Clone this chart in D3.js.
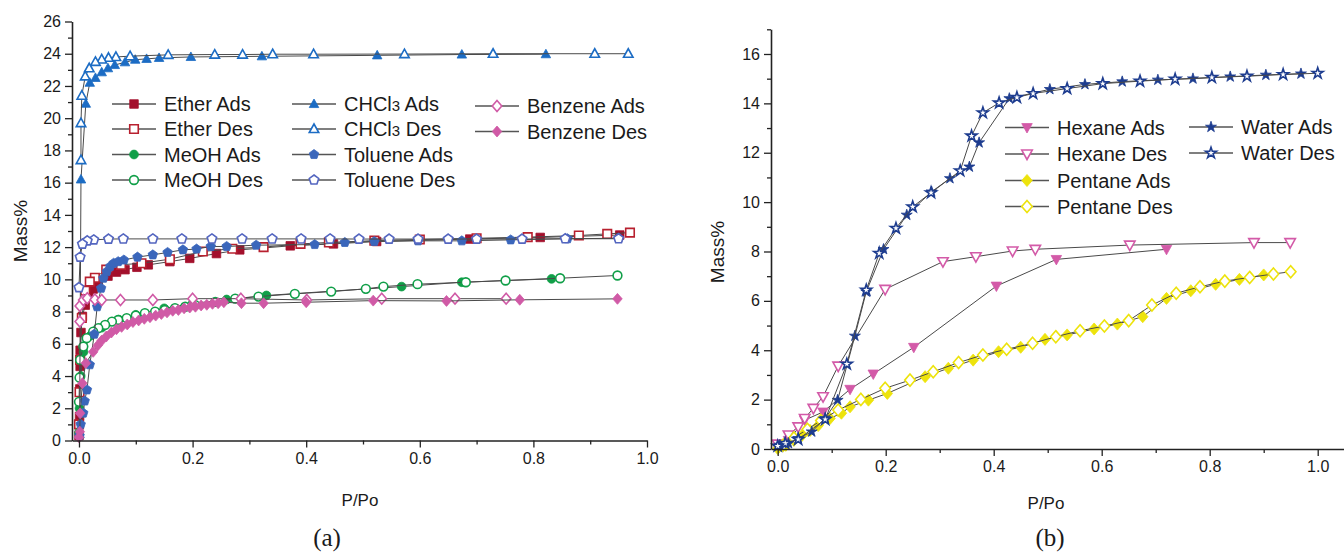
<!DOCTYPE html>
<html>
<head>
<meta charset="utf-8">
<script src="https://cdn.jsdelivr.net/npm/d3@7"></script>
<style>
  body { margin: 0; background: #fff; }
  svg { display: block; }
  text { font-family: "Liberation Sans", Arial, sans-serif; fill: #1a1a1a; }
</style>
</head>
<body>
<svg id="chart" width="1344" height="554"></svg>
<script>
// ---- data: [P/Po, Mass%] ----
// panel (a)
const etherAds = [[0.0,0.3],[0.001,1.5],[0.0015,3.2],[0.002,4.6],[0.002,5.6],[0.0035,6.7],[0.006,7.7],[0.011,8.4],[0.017,9.0],[0.025,9.4],[0.034,9.8],[0.051,10.2],[0.066,10.45],[0.081,10.6],[0.102,10.75],[0.122,10.9],[0.16,11.1],[0.195,11.3],[0.242,11.6],[0.283,11.83],[0.372,12.08],[0.448,12.2],[0.524,12.35],[0.688,12.5],[0.812,12.6],[0.952,12.75]];
const etherDes = [[0.97,12.9],[0.93,12.82],[0.88,12.72],[0.79,12.62],[0.70,12.55],[0.60,12.47],[0.52,12.4],[0.44,12.29],[0.39,12.2],[0.325,12.0],[0.27,11.9],[0.218,11.73],[0.16,11.25],[0.11,11.0],[0.074,10.9],[0.048,10.6],[0.028,10.1],[0.019,9.86],[0.011,9.3],[0.005,7.6],[0.002,5.0],[0.001,3.0],[0.0,1.0]];
const meohAds = [[0.0,0.5],[0.001,2.0],[0.003,4.0],[0.008,5.5],[0.02,6.5],[0.04,7.0],[0.07,7.5],[0.1,7.8],[0.15,8.2],[0.2,8.5],[0.26,8.75],[0.33,9.0],[0.568,9.55],[0.674,9.82],[0.832,10.03]];
const meohDes = [[0.948,10.24],[0.847,10.07],[0.751,9.93],[0.681,9.82],[0.596,9.7],[0.536,9.55],[0.505,9.41],[0.444,9.24],[0.38,9.1],[0.316,8.93],[0.275,8.8],[0.24,8.6],[0.204,8.42],[0.187,8.3],[0.169,8.21],[0.151,8.1],[0.134,8.0],[0.116,7.9],[0.1,7.75],[0.084,7.59],[0.069,7.48],[0.058,7.38],[0.046,7.17],[0.034,6.97],[0.025,6.76],[0.0136,6.35],[0.0076,5.83],[0.002,5.0],[0.001,3.9],[0.0,2.4]];
const chcl3Ads = [[0.001,0.4],[0.0035,16.2],[0.012,20.9],[0.019,22.2],[0.029,22.5],[0.04,22.85],[0.051,23.1],[0.063,23.3],[0.081,23.47],[0.099,23.63],[0.119,23.68],[0.141,23.74],[0.197,23.8],[0.322,23.84],[0.525,23.9],[0.674,23.95],[0.822,23.97]];
const chcl3Des = [[0.967,24.0],[0.908,24.0],[0.729,24.0],[0.573,23.98],[0.413,23.97],[0.341,23.97],[0.288,23.95],[0.239,23.95],[0.157,23.93],[0.09,23.85],[0.065,23.8],[0.052,23.75],[0.04,23.65],[0.029,23.5],[0.018,23.1],[0.011,22.6],[0.005,21.4],[0.0035,19.7],[0.0035,17.4]];
const tolueneAds = [[0.001,0.3],[0.003,1.0],[0.0075,1.7],[0.01,2.45],[0.014,3.14],[0.019,4.7],[0.027,6.6],[0.032,8.3],[0.039,9.45],[0.043,10.07],[0.049,10.48],[0.055,10.8],[0.061,11.0],[0.069,11.1],[0.079,11.2],[0.103,11.38],[0.13,11.52],[0.156,11.67],[0.183,11.83],[0.207,11.88],[0.232,12.04],[0.26,12.04],[0.312,12.12],[0.415,12.16],[0.468,12.29],[0.52,12.35],[0.597,12.39],[0.674,12.39],[0.76,12.45],[0.86,12.52],[0.95,12.55]];
const tolueneDes = [[0.95,12.52],[0.856,12.52],[0.78,12.5],[0.70,12.5],[0.65,12.5],[0.597,12.5],[0.546,12.5],[0.493,12.5],[0.442,12.51],[0.391,12.51],[0.34,12.51],[0.287,12.51],[0.234,12.51],[0.181,12.51],[0.13,12.51],[0.078,12.51],[0.052,12.5],[0.026,12.45],[0.0146,12.39],[0.006,12.19],[0.002,11.38],[0.0,9.49]];
const benzeneAds = [[0.0015,7.38],[0.0015,8.35],[0.0076,8.72],[0.0146,8.83],[0.028,8.75],[0.04,8.72],[0.073,8.72],[0.13,8.72],[0.2,8.8],[0.285,8.8],[0.401,8.72],[0.533,8.8],[0.662,8.8],[0.752,8.8]];
const benzeneDes = [[0.948,8.79],[0.776,8.73],[0.647,8.66],[0.518,8.68],[0.4,8.58],[0.325,8.52],[0.286,8.52],[0.255,8.58],[0.245,8.52],[0.235,8.48],[0.225,8.42],[0.215,8.38],[0.205,8.3],[0.195,8.25],[0.185,8.2],[0.175,8.1],[0.165,8.05],[0.155,7.95],[0.145,7.85],[0.135,7.75],[0.125,7.65],[0.115,7.55],[0.105,7.45],[0.095,7.35],[0.085,7.2],[0.075,7.05],[0.066,6.9],[0.057,6.7],[0.048,6.45],[0.04,6.2],[0.033,5.9],[0.025,5.5],[0.012,4.8],[0.006,3.55],[0.002,1.69],[0.0015,0.55],[0.0,0.2]];

// panel (b)
const hexaneAds = [[0.0,0.05],[0.02,0.35],[0.05,1.17],[0.084,1.5],[0.134,2.42],[0.177,3.04],[0.252,4.12],[0.405,6.6],[0.516,7.68],[0.72,8.09]];
const hexaneDes = [[0.949,8.36],[0.882,8.36],[0.652,8.26],[0.477,8.09],[0.435,8.02],[0.367,7.79],[0.306,7.59],[0.199,6.47],[0.112,3.36],[0.084,2.12],[0.066,1.65],[0.05,1.24],[0.038,0.9],[0.02,0.57],[0.0,0.2]];
const pentaneAds = [[0.0,0.02],[0.015,0.15],[0.03,0.35],[0.045,0.55],[0.06,0.75],[0.075,0.95],[0.097,1.24],[0.118,1.45],[0.134,1.71],[0.168,1.98],[0.203,2.25],[0.273,2.93],[0.316,3.27],[0.362,3.6],[0.409,3.94],[0.45,4.12],[0.495,4.44],[0.536,4.62],[0.586,4.86],[0.629,5.06],[0.676,5.36],[0.72,6.1],[0.765,6.41],[0.811,6.67],[0.855,6.87],[0.9,7.05]];
const pentaneDes = [[0.95,7.18],[0.918,7.09],[0.874,6.95],[0.828,6.8],[0.782,6.57],[0.738,6.31],[0.693,5.83],[0.65,5.2],[0.605,4.98],[0.56,4.79],[0.515,4.55],[0.472,4.28],[0.424,4.04],[0.38,3.81],[0.335,3.5],[0.288,3.13],[0.245,2.79],[0.199,2.46],[0.154,2.01],[0.112,1.58],[0.08,1.15],[0.055,0.8],[0.03,0.45],[0.01,0.15]];
const waterAds = [[0.004,0.16],[0.02,0.23],[0.038,0.43],[0.063,0.7],[0.088,1.24],[0.111,1.98],[0.143,4.58],[0.164,6.37],[0.196,8.09],[0.239,9.48],[0.285,10.42],[0.319,10.96],[0.355,11.43],[0.373,12.41],[0.429,14.2],[0.504,14.57],[0.569,14.77],[0.638,14.88],[0.704,14.95],[0.769,15.0],[0.838,15.08],[0.904,15.15],[0.969,15.2]];
const waterDes = [[1.0,15.22],[0.936,15.17],[0.869,15.1],[0.804,15.05],[0.736,14.98],[0.671,14.9],[0.602,14.8],[0.536,14.6],[0.473,14.4],[0.443,14.24],[0.41,14.02],[0.38,13.62],[0.359,12.68],[0.338,11.27],[0.284,10.38],[0.25,9.81],[0.219,8.94],[0.188,7.93],[0.164,6.44],[0.128,3.44],[0.088,1.2],[0.038,0.39],[0.014,0.23],[0.0,0.12]];

// tick values
const xTicks = [0, 0.2, 0.4, 0.6, 0.8, 1.0];
const xMinor = [0.1, 0.3, 0.5, 0.7, 0.9];
const yTicksA = d3.range(0, 27, 2);
const yMinorA = d3.range(1, 26, 2);
const yTicksB = d3.range(0, 17, 2);
const yMinorB = d3.range(1, 18, 2);

const svg = d3.select("#chart");

// marker shapes, s = nominal width in px
function markerPath(shape, s) {
    const h = s / 2;
    if (shape === "square") return `M${-h*0.9},${-h*0.9}H${h*0.9}V${h*0.9}H${-h*0.9}Z`;
    if (shape === "circle") return d3.symbol(d3.symbolCircle, Math.PI * h * h * 0.85)();
    if (shape === "triUp") return `M0,${-h*1.05}L${h},${h*0.75}L${-h},${h*0.75}Z`;
    if (shape === "triDown") return `M0,${h*1.05}L${h},${-h*0.75}L${-h},${-h*0.75}Z`;
    if (shape === "diamond") return `M0,${-h*1.15}L${h},0L0,${h*1.15}L${-h},0Z`;
    if (shape === "pentagon") {
        const pts = d3.range(5).map(k => {
            const a = -Math.PI / 2 + k * 2 * Math.PI / 5;
            return [Math.cos(a) * h * 1.05, Math.sin(a) * h * 1.05];
        });
        return "M" + pts.map(p => p.join(",")).join("L") + "Z";
    }
    if (shape === "star") return d3.symbol(d3.symbolStar, (h * 1.1) * (h * 1.1) / 0.8908)();
    return "";
}

function drawMarker(g, x, y, ser, s) {
    g.append("path")
        .attr("d", markerPath(ser.shape, s))
        .attr("transform", `translate(${x},${y})`)
        .attr("fill", ser.open ? "#fff" : ser.color)
        .attr("stroke", ser.color)
        .attr("stroke-width", ser.open ? 1.6 : 0.8);
}

function drawPanel(cfg) {
    const x = d3.scaleLinear().domain(cfg.xDomain).range(cfg.xRange);
    const y = d3.scaleLinear().domain(cfg.yDomain).range(cfg.yRange);
    const g = svg.append("g");

    // series: line then markers
    cfg.series.forEach(ser => {
        g.append("path")
            .datum(ser.data)
            .attr("fill", "none")
            .attr("stroke", "#4a4a4a")
            .attr("stroke-width", 1)
            .attr("d", d3.line().x(d => x(d[0])).y(d => y(d[1])));
        const mg = g.append("g");
        ser.data.forEach(d => drawMarker(mg, x(d[0]), y(d[1]), ser, cfg.markerSize));
    });

    // axes
    g.append("g")
        .attr("transform", `translate(0,${cfg.yRange[0]})`)
        .call(d3.axisBottom(x).tickValues(xTicks).tickFormat(d3.format(".1f")).tickSize(7).tickSizeOuter(0).tickPadding(5));
    g.append("g")
        .attr("transform", `translate(0,${cfg.yRange[0]})`)
        .call(d3.axisBottom(x).tickValues(xMinor).tickFormat("").tickSize(4).tickSizeOuter(0))
        .select(".domain").remove();
    g.append("g")
        .attr("transform", `translate(${cfg.xRange[0]},0)`)
        .call(d3.axisLeft(y).tickValues(cfg.yTicks).tickFormat(d3.format("d")).tickSize(7).tickSizeOuter(0).tickPadding(4));
    g.append("g")
        .attr("transform", `translate(${cfg.xRange[0]},0)`)
        .call(d3.axisLeft(y).tickValues(cfg.yMinor).tickFormat("").tickSize(4).tickSizeOuter(0))
        .select(".domain").remove();
    g.selectAll(".domain").attr("stroke", "#222").attr("stroke-width", 1.6);
    g.selectAll(".tick line").attr("stroke", "#222").attr("stroke-width", 1.3);
    g.selectAll(".tick text").attr("font-size", 16).attr("font-family", '"Liberation Sans", Arial, sans-serif').attr("fill", "#222");

    // titles
    g.append("text").attr("x", cfg.xTitle[0]).attr("y", cfg.xTitle[1])
        .attr("text-anchor", "middle").attr("font-size", 17).text("P/Po");
    g.append("text").attr("transform", `translate(${cfg.yTitle[0]},${cfg.yTitle[1]}) rotate(-90)`)
        .attr("text-anchor", "middle").attr("font-size", 19).text("Mass%");
    g.append("text").attr("x", cfg.label[0]).attr("y", cfg.label[1])
        .attr("text-anchor", "middle").attr("font-size", 25)
        .style("font-family", '"Liberation Serif", "Times New Roman", serif')
        .text(cfg.labelText);

    // legend
    cfg.legend.forEach(item => {
        const ser = cfg.series.find(s => s.name === item.name);
        const lg = g.append("g");
        lg.append("line").attr("x1", item.x - 22).attr("x2", item.x + 22)
            .attr("y1", item.y).attr("y2", item.y)
            .attr("stroke", "#555").attr("stroke-width", 1.3);
        drawMarker(lg, item.x, item.y, ser, cfg.markerSize);
        const t = lg.append("text").attr("x", item.x + 30).attr("y", item.y + 7)
            .attr("font-size", cfg.legendSize);
        if (ser.name.startsWith("CHCl3")) {
            t.append("tspan").text("CHCl");
            t.append("tspan").attr("font-size", cfg.legendSize * 0.75).text("3");
            t.append("tspan").text(ser.name.slice(5));
        } else {
            t.text(ser.name);
        }
    });
}

drawPanel({
    xDomain: [-0.0123, 1.0], xRange: [72, 647],
    yDomain: [0, 26], yRange: [440.5, 21.5],
    yTicks: yTicksA, yMinor: yMinorA,
    markerSize: 9.5, legendSize: 20,
    xTitle: [360, 506], yTitle: [27, 231], label: [327, 546], labelText: "(a)",
    series: [
        { name: "Ether Ads", data: etherAds, color: "#a3102c", shape: "square", open: false },
        { name: "Ether Des", data: etherDes, color: "#b8202f", shape: "square", open: true },
        { name: "MeOH Ads", data: meohAds, color: "#109f48", shape: "circle", open: false },
        { name: "MeOH Des", data: meohDes, color: "#109f48", shape: "circle", open: true },
        { name: "CHCl3 Ads", data: chcl3Ads, color: "#1c6cc4", shape: "triUp", open: false },
        { name: "CHCl3 Des", data: chcl3Des, color: "#1c6cc4", shape: "triUp", open: true },
        { name: "Toluene Ads", data: tolueneAds, color: "#3a66bb", shape: "pentagon", open: false },
        { name: "Toluene Des", data: tolueneDes, color: "#5466c0", shape: "pentagon", open: true },
        { name: "Benzene Ads", data: benzeneAds, color: "#d05aa6", shape: "diamond", open: true },
        { name: "Benzene Des", data: benzeneDes, color: "#d05aa6", shape: "diamond", open: false }
    ],
    legend: [
        { name: "Ether Ads", x: 134, y: 104 }, { name: "Ether Des", x: 134, y: 129 },
        { name: "MeOH Ads", x: 134, y: 154.5 }, { name: "MeOH Des", x: 134, y: 180 },
        { name: "CHCl3 Ads", x: 314, y: 104 }, { name: "CHCl3 Des", x: 314, y: 129 },
        { name: "Toluene Ads", x: 314, y: 154.5 }, { name: "Toluene Des", x: 314, y: 180 },
        { name: "Benzene Ads", x: 497, y: 106 }, { name: "Benzene Des", x: 497, y: 131.5 }
    ]
});

drawPanel({
    xDomain: [-0.0124, 1.0487], xRange: [771, 1344],
    yDomain: [0, 17], yRange: [449, 29.3],
    yTicks: yTicksB, yMinor: yMinorB,
    markerSize: 10.5, legendSize: 20,
    xTitle: [1046, 509], yTitle: [724, 252], label: [1050, 546], labelText: "(b)",
    series: [
        { name: "Hexane Ads", data: hexaneAds, color: "#d35aa8", shape: "triDown", open: false },
        { name: "Hexane Des", data: hexaneDes, color: "#d35aa8", shape: "triDown", open: true },
        { name: "Pentane Ads", data: pentaneAds, color: "#ede30c", shape: "diamond", open: false },
        { name: "Pentane Des", data: pentaneDes, color: "#ede30c", shape: "diamond", open: true },
        { name: "Water Ads", data: waterAds, color: "#1d3c8f", shape: "star", open: false },
        { name: "Water Des", data: waterDes, color: "#1d3c8f", shape: "star", open: true }
    ],
    legend: [
        { name: "Hexane Ads", x: 1027, y: 127.5 }, { name: "Hexane Des", x: 1027, y: 154 },
        { name: "Pentane Ads", x: 1027, y: 180.5 }, { name: "Pentane Des", x: 1027, y: 206.5 },
        { name: "Water Ads", x: 1211, y: 127 }, { name: "Water Des", x: 1211, y: 153 }
    ]
});
</script>
</body>
</html>
